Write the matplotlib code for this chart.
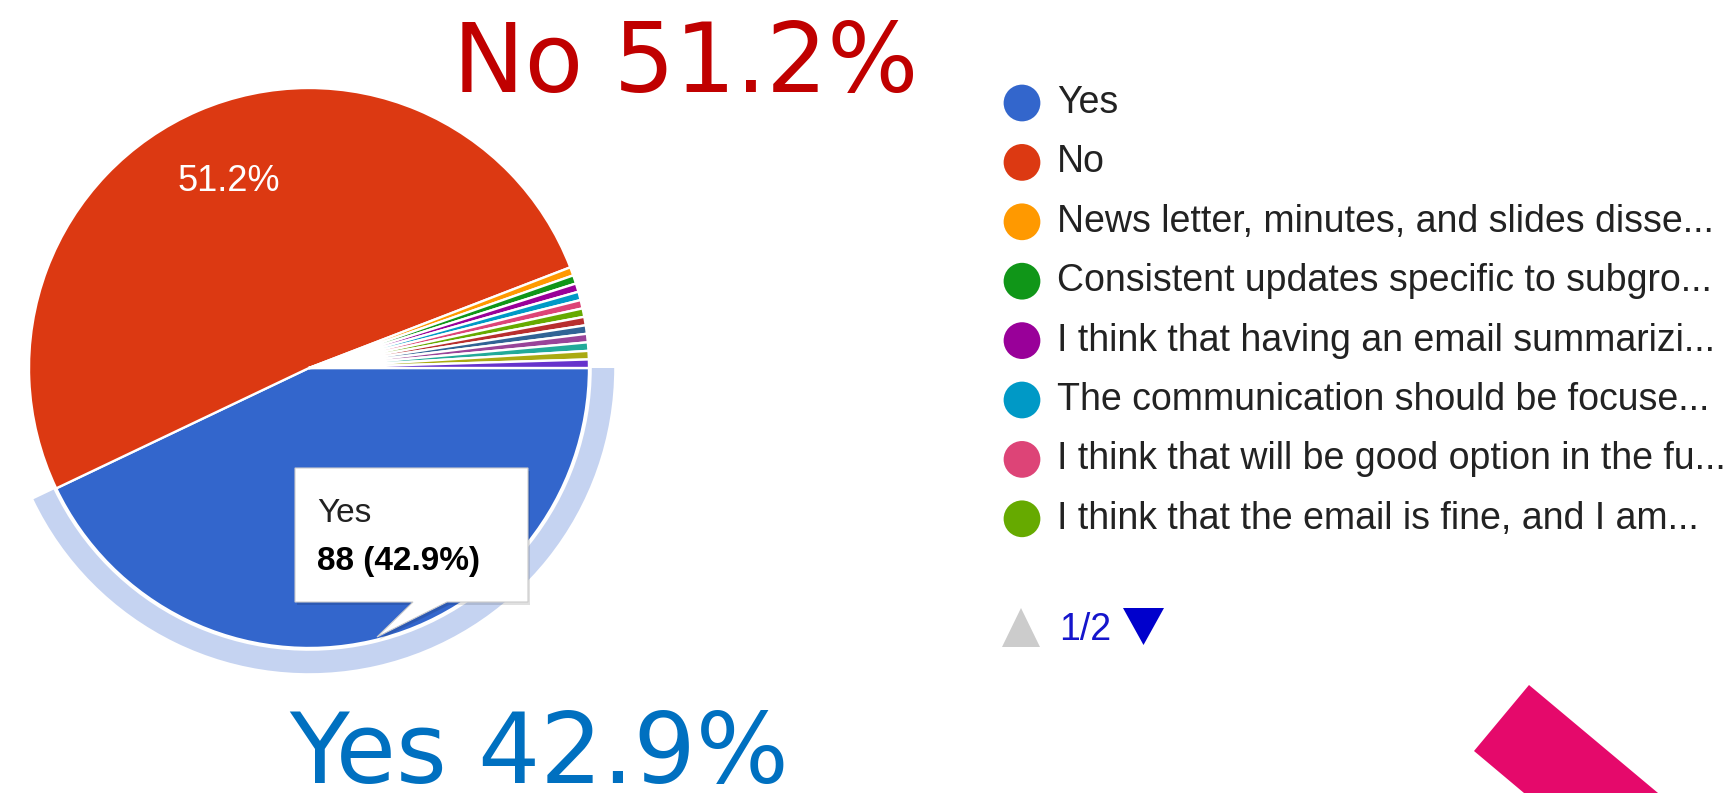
import matplotlib.pyplot as plt
from matplotlib.patches import Polygon

# survey answers, 205 responses in total
counts = [88, 105, 1, 1, 1, 1, 1, 1, 1, 1, 1, 1, 1, 1]
slice_colors = ['#3366cc', '#dc3912', '#ff9900', '#109618', '#990099', '#0099c6',
                '#dd4477', '#66aa00', '#b82e2e', '#316395', '#994499', '#22aa99',
                '#aaaa11', '#6633cc']

# legend page 1 of 2
legend_labels = ['Yes',
                 'No',
                 'News letter, minutes, and slides disse...',
                 'Consistent updates specific to subgro...',
                 'I think that having an email summarizi...',
                 'The communication should be focuse...',
                 'I think that will be good option in the fu...',
                 'I think that the email is fine, and I am...']
page_text = '1/2'

tip_title = 'Yes'
tip_value = '88 (42.9%)'
no_caption = 'No 51.2%'
yes_caption = 'Yes 42.9%'

W, H = 1731, 793
fig = plt.figure(figsize=(W / 100, H / 100), dpi=100)
fig.patch.set_facecolor('white')

# pie axes, centre (309, 368) px, radius 280 px
cx, cy, r = 309, 368, 280
half = 1.25 * r
ax = fig.add_axes([(cx - half) / W, (H - cy - half) / H, 2 * half / W, 2 * half / H])

# highlight ring around the selected slice
ax.pie(counts, radius=1.09, startangle=0, counterclock=False,
       colors=['#c5d3f1'] + ['none'] * (len(counts) - 1),
       wedgeprops=dict(width=0.08, edgecolor='none'))

# the Yes label sits under the tooltip, so only No gets one
ax.pie(counts, colors=slice_colors, startangle=0, counterclock=False,
       autopct=lambda p: '%.1f%%' % p if p > 50 else '', pctdistance=0.725,
       wedgeprops=dict(edgecolor='white', linewidth=1.7),
       textprops=dict(color='white', fontsize=26, family='Liberation Sans'))
ax.set_xlim(-1.25, 1.25)
ax.set_ylim(-1.25, 1.25)
ax.axis('off')

# overlay in pixel coordinates for legend, tooltip and captions
ov = fig.add_axes([0, 0, 1, 1])
ov.set_xlim(0, W)
ov.set_ylim(H, 0)
ov.axis('off')
ov.patch.set_alpha(0)

# tooltip
box = [(295, 468), (528, 468), (528, 602), (447, 602), (377, 637), (413, 602), (295, 602)]
shadow = [(x + 2, y + 3) for x, y in box]
ov.add_patch(Polygon(shadow, closed=True, facecolor='#000000', alpha=0.12, edgecolor='none'))
ov.add_patch(Polygon(box, closed=True, facecolor='white', edgecolor='#cccccc', lw=0.8))
ov.text(317, 522, tip_title, fontsize=24, family='Liberation Sans', color='#222222')
ov.text(317, 570, tip_value, fontsize=24, family='Liberation Sans', weight='bold', color='black')

# legend
for i, lab in enumerate(legend_labels):
    y = 103 + i * 59.4
    ov.scatter([1022], [y], s=700, color=slice_colors[i], edgecolor='none')
    ov.text(1057, y, lab, fontsize=27, family='Liberation Sans', color='#222222', va='center')

# pager
ov.add_patch(Polygon([(1002, 647), (1040, 647), (1021, 608)], closed=True, facecolor='#cccccc', edgecolor='none'))
ov.text(1059, 640, page_text, fontsize=27, family='Liberation Sans', color='#1515cc')
ov.add_patch(Polygon([(1123, 608), (1164, 608), (1143.5, 645)], closed=True, facecolor='#0000cc', edgecolor='none'))

# captions
ov.text(453, 92, no_caption, fontsize=69, family='DejaVu Sans', color='#c00000')
ov.text(289, 783, yes_caption, fontsize=70.5, family='DejaVu Sans', color='#0070c0')

# pink decoration
ov.add_patch(Polygon([(1529, 685), (1474, 751), (1524, 793), (1658, 793)], closed=True,
                     facecolor='#e5096b', edgecolor='none'))

fig.savefig('out.png', dpi=100)
